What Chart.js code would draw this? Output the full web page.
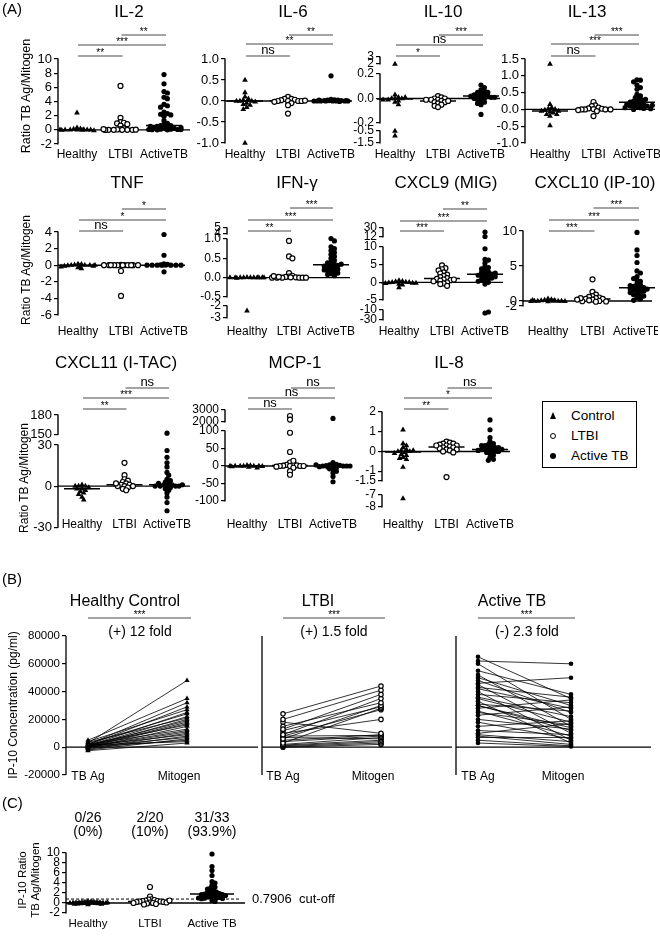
<!DOCTYPE html>
<html lang="en">
<head>
<meta charset="UTF-8">
<meta name="viewport" content="width=device-width, initial-scale=1.0">
<title>TB Ag / Mitogen ratios</title>
<script src="https://cdn.jsdelivr.net/npm/chart.js"></script>
<style>
  body { margin: 0; background: #fff; }
  #page { position: relative; width: 660px; height: 936px; overflow: hidden; background: #fff;
          font-family: "Liberation Sans", Arial, sans-serif; color: #000; }
  #page canvas { position: absolute; }
  .txt { position: absolute; white-space: nowrap; }
</style>
</head>
<body>
<div id="page"></div>
<script>
// groups on every x axis of panel A
const groupNames = ['Healthy', 'LTBI', 'ActiveTB'];

// (A) ratio TB Ag / Mitogen per cytokine, one array per group
const il2Healthy = [2.4, 0.3, 0.15, 0.1, 0.05, 0, 0, 0, 0, -0.05, -0.1, 0, 0.02, -0.02];
const il2Ltbi = [6.2, 1.7, 1.1, 1.0, 0.9, 0.8, 0.6, 0.2, 0.1, 0.05, 0, 0, 0, 0, 0.02, -0.02, 0.1, 0];
const il2Active = [7.8, 6.5, 5.4, 5.2, 4.6, 4.4, 3.6, 3.4, 3.2, 2.5, 2.3, 2.2, 2.1, 1.9, 1.3, 0.9, 0.8, 0.6, 0.6, 0.5, 0.4, 0.3, 0.2, 0.2, 0.1, 0.1, 0.05, 0, 0.5, 0.3, 0.05, 0, 0.15, 0.02, 0.03];
const il6Healthy = [0.5, 0.2, 0.1, 0.05, 0.02, 0, 0, 0, -0.02, -0.05, -0.08, -0.1, -0.15, -0.2, -1.0];
const il6Ltbi = [0.1, 0.05, 0.05, 0.03, 0.02, 0, 0, 0, 0, -0.02, -0.05, -0.1, -0.3, 0.01];
const il6Active = [0.6, 0.04, 0.03, 0.02, 0.02, 0.01, 0.01, 0, 0, 0, 0, 0, 0, 0, 0.01, 0.02, 0, -0.01, 0.01];
const il10Healthy = [2.0, 0.03, 0.01, 0, 0, 0, -0.01, -0.02, -0.03, -0.05, 0.01, -0.01, -0.5, -0.9];
const il10Ltbi = [0.02, 0.01, 0, 0, -0.01, -0.01, -0.02, -0.03, -0.03, -0.04, -0.05, -0.06, -0.07, -0.02, -0.01];
const il10Active = [0.11, 0.09, 0.07, 0.06, 0.05, 0.05, 0.04, 0.03, 0.03, 0.02, 0.02, 0.01, 0.01, 0, 0, -0.01, -0.02, -0.03, -0.04, -0.05, -0.13, 0.02, 0.01];
const il13Healthy = [1.35, 0.15, 0.05, 0.02, 0, -0.02, -0.05, -0.08, -0.1, -0.15, -0.15, -0.2, -0.05, -0.48];
const il13Ltbi = [0.22, 0.12, 0.1, 0.05, 0.03, 0.02, 0.01, 0, 0, 0, 0, -0.02, -0.05, -0.2];
const il13Active = [0.88, 0.87, 0.82, 0.72, 0.65, 0.6, 0.45, 0.4, 0.35, 0.3, 0.28, 0.25, 0.22, 0.2, 0.18, 0.15, 0.15, 0.12, 0.1, 0.1, 0.08, 0.05, 0.05, 0.03, 0.02, 0, 0.3, 0.12];
const tnfHealthy = [0.15, 0.1, 0.05, 0, 0, 0, -0.05, -0.1, -0.1, -0.2, -0.3, -0.4, -0.1, 0];
const tnfLtbi = [0.05, 0.02, 0, 0, 0, 0, 0, 0, 0, 0, 0, -0.7, -3.7, 0.02];
const tnfActive = [3.7, 1.2, 0.15, 0.1, 0.05, 0, 0, 0, 0, 0, 0, -0.8, 0.02, 0];
const ifnHealthy = [0.01, 0, 0, 0, 0, 0, 0, 0, 0, 0, -0.01, 0, -2.4];
const ifnLtbi = [0.95, 0.55, 0.5, 0.12, 0.05, 0.03, 0.02, 0.01, 0, 0, 0, 0, 0, 0, 0.01, 0.02, 0.04];
const ifnActive = [1.25, 0.95, 0.8, 0.75, 0.7, 0.65, 0.6, 0.55, 0.5, 0.45, 0.4, 0.38, 0.35, 0.32, 0.3, 0.28, 0.25, 0.22, 0.2, 0.18, 0.15, 0.12, 0.1, 0.08, 0.05, 0.3, 0.35, 0.2];
const cxcl9Healthy = [0.5, 0.3, 0.2, 0.1, 0, 0, -0.1, -0.2, -0.3, -0.5, -0.7, -1.5, -0.2];
const cxcl9Ltbi = [4.8, 4.0, 3.7, 3.4, 2.8, 2.5, 2.2, 1.8, 1.5, 1.2, 1.0, 0.8, 0.6, 0.5, 0.3, 0, -0.3, -0.5, -1.0, 0.8];
const cxcl9Active = [22, 13, 9.5, 6.5, 6.3, 5.5, 4.5, 4.2, 3.8, 3.5, 3.0, 2.8, 2.5, 2.3, 2.0, 2.0, 1.8, 1.5, 1.2, 1.0, 0.8, 0.5, 0.3, 0, -0.5, 2.6, 1.6, -16, -14];
const cxcl10Healthy = [0.3, 0.2, 0.15, 0.1, 0.05, 0, 0, 0, -0.05, -0.1, -0.15, -0.2, 0.1, 0];
const cxcl10Ltbi = [3.1, 1.3, 0.9, 0.7, 0.6, 0.5, 0.4, 0.3, 0.3, 0.2, 0.1, 0, -0.1, -0.2, -0.3, 0.4, 0.2];
const cxcl10Active = [9.8, 7.3, 6.5, 5.5, 4.3, 4.0, 3.5, 3.0, 2.8, 2.5, 2.3, 2.1, 2.0, 1.9, 1.8, 1.7, 1.6, 1.5, 1.4, 1.3, 1.2, 1.0, 0.9, 0.8, 0.7, 0.5, 0.3, 0.1, 1.7, 2.2, 3.2];
const cxcl11Healthy = [1, 0, 0, -1, -2, -3, -4, -5, -6, -8, -10, -2, 0];
const cxcl11Ltbi = [17, 8, 5, 4, 3, 2, 1, 1, 0, 0, 0, -1, -2, -3, 2];
const cxcl11Active = [152, 26, 21, 17, 14, 10, 8, 5, 4, 3, 2, 1, 1, 0, 0, 0, 0, -1, -2, -3, -5, -8, -12, -18, 0, 1, 2];
const mcp1Healthy = [2, 1, 0, 0, 0, 0, 0, -1, -2, -3, -5, 0];
const mcp1Ltbi = [2500, 2200, 95, 40, 10, 5, 3, 2, 1, 0, 0, 0, 0, -2, -5, -15, 15, -25];
const mcp1Active = [2300, 10, 5, 3, 2, 1, 0, 0, 0, 0, -2, -5, -8, -10, -15, -20, -30, -45, 0, 3, -3];
const il8Healthy = [1.1, 0.4, 0.3, 0.2, 0.1, 0.05, 0, 0, -0.05, -0.1, -0.15, -0.2, -0.3, -0.35, -0.4, -0.8, 0.05, -7.3];
const il8Ltbi = [0.5, 0.45, 0.4, 0.4, 0.35, 0.3, 0.3, 0.25, 0.2, 0.2, 0.15, 0.1, 0.1, 0.05, 0, -0.05, -1.3, 0.3];
const il8Active = [1.6, 1.1, 0.7, 0.5, 0.4, 0.35, 0.3, 0.25, 0.2, 0.2, 0.15, 0.1, 0.1, 0.05, 0, 0, -0.1, -0.2, -0.3, -0.4, -0.45, 0.3, 0.1, 0.05, -0.05];

// y tick labels (broken axes carry their own gaps)
const il2Ticks = ['-2', '0', '2', '4', '6', '8', '10'];
const il6Ticks = ['-1.0', '-0.5', '0.0', '0.5', '1.0'];
const il10Ticks = ['-1.5', '-0.5', '-0.2', '0.0', '0.2', '2', '3'];
const il13Ticks = ['-1.0', '-0.5', '0.0', '0.5', '1.0', '1.5'];
const tnfTicks = ['-6', '-4', '-2', '0', '2', '4'];
const ifnTicks = ['-3', '-2', '-0.5', '0.0', '0.5', '1.0', '4', '5'];
const cxcl9Ticks = ['-30', '-10', '-5', '0', '5', '10', '12', '30'];
const cxcl10Ticks = ['-2', '0', '5', '10'];
const cxcl11Ticks = ['-30', '0', '30', '150', '180'];
const mcp1Ticks = ['-100', '-50', '0', '50', '100', '2000', '3000'];
const il8Ticks = ['-8', '-7', '-1.5', '-1', '0', '1', '2'];

// (B) IP-10 concentration (pg/ml), paired TB Ag -> Mitogen
const pairLabels = ['TB Ag', 'Mitogen'];
const healthyTbAg = [3000, 5000, 2000, 1500, 4000, 1000, 2500, 800, 3500, 500, 1200, 300, 0, 2000, -500, 1800, 600, 200, -1000, 1000, -1500, 400, -2000, 0, 1500, -2500];
const healthyMitogen = [48000, 35000, 32000, 29000, 27000, 25000, 24000, 22000, 21000, 20000, 19000, 18000, 17000, 16000, 15000, 13000, 12000, 11000, 10000, 9000, 8000, 7000, 6000, 5000, 4000, 3000];
const ltbiTbAg = [24000, 20000, 13000, 9000, 15000, 6000, 12000, 3000, 8000, 10000, 18000, 5000, 4000, 2000, 7000, 1500, 1000, 500, 0, 8000];
const ltbiMitogen = [44000, 41000, 38000, 35000, 32000, 30000, 29000, 28000, 27000, 20000, 10000, 9000, 8000, 7000, 6000, 5000, 4000, 3000, 2000, 8500];
const activeTbAg = [65000, 62000, 60000, 55000, 52000, 50000, 48000, 46000, 45000, 43000, 42000, 40000, 38000, 36000, 35000, 33000, 31000, 30000, 28000, 26000, 25000, 23000, 20000, 18000, 15000, 12000, 10000, 9000, 8000, 7000, 5000, 3000, 30000];
const activeMitogen = [35000, 60000, 20000, 38000, 15000, 30000, 25000, 50000, 10000, 36000, 28000, 5000, 32000, 22000, 18000, 3000, 26000, 12000, 34000, 8000, 16000, 29000, 13000, 6000, 19000, 9000, 17000, 4000, 2000, 7000, 1000, 500, 14000];

// (C) IP-10 ratio TB Ag / Mitogen
const ratioGroups = ['Healthy', 'LTBI', 'Active TB'];
const ratioHealthy = [0.3, 0.25, 0.2, 0.2, 0.15, 0.15, 0.1, 0.1, 0.05, 0.05, 0.02, 0, 0, 0, 0, -0.02, -0.05, -0.05, -0.1, -0.1, -0.15, -0.2, -0.2, -0.3, 0.1, 0];
const ratioLtbi = [3.2, 1.3, 0.75, 0.7, 0.6, 0.5, 0.4, 0.4, 0.3, 0.3, 0.2, 0.2, 0.1, 0.1, 0, 0, -0.1, -0.2, -0.3, 0.5];
const ratioActive = [9.8, 7.3, 6.5, 5.5, 4.3, 4.0, 3.6, 3.2, 3.0, 2.8, 2.6, 2.4, 2.2, 2.1, 2.0, 1.9, 1.8, 1.8, 1.7, 1.7, 1.6, 1.5, 1.4, 1.3, 1.2, 1.1, 1.0, 0.95, 0.9, 0.85, 1.0, 0.5, 0.3];
const ratioTicks = ['-2', '0', '2', '4', '6', '8', '10'];
const ratioCounts = [['0/26', '(0%)'], ['2/20', '(10%)'], ['31/33', '(93.9%)']];
const cutOff = 0.7906;

const FONT = '"Liberation Sans", Arial, sans-serif';
Chart.defaults.font.family = FONT;
Chart.defaults.color = '#000';
Chart.defaults.animation = false;
const page = document.getElementById('page');

function addCanvas(l, t, w, h) {
  const cv = document.createElement('canvas');
  cv.width = Math.round(w); cv.height = Math.round(h);
  cv.style.left = Math.round(l) + 'px'; cv.style.top = Math.round(t) + 'px';
  page.appendChild(cv);
  return cv;
}
function addText(html, x, y, size, extra) {
  const d = document.createElement('div');
  d.className = 'txt';
  d.innerHTML = html;
  d.style.cssText += `left:${x}px;top:${y}px;font-size:${size}px;` + (extra || '');
  page.appendChild(d);
  return d;
}
function vLabel(html, cx, cy, size) {
  addText(html, cx - 150, cy - 20, size,
    `width:300px;height:40px;display:flex;align-items:center;justify-content:center;text-align:center;line-height:${size + 2}px;transform:rotate(-90deg);white-space:normal;`);
}
function stroke(ctx, x1, y1, x2, y2, w, col, dash) {
  ctx.save(); ctx.beginPath(); ctx.lineWidth = w; ctx.strokeStyle = col || '#000';
  if (dash) ctx.setLineDash(dash);
  ctx.moveTo(x1, y1); ctx.lineTo(x2, y2); ctx.stroke(); ctx.restore();
}
function write(ctx, t, x, y, size, align) {
  ctx.save(); ctx.font = size + 'px ' + FONT; ctx.fillStyle = '#000';
  ctx.textAlign = align || 'center'; ctx.textBaseline = 'middle';
  ctx.fillText(t, x, y); ctx.restore();
}
function median(a) {
  const s = [...a].sort((p, q) => p - q), m = s.length >> 1;
  return s.length % 2 ? s[m] : (s[m - 1] + s[m]) / 2;
}

// piecewise map value -> pixels above plot bottom (handles broken axes)
function mapper(segs, yBot) {
  const s = segs.map(g => ({ lo: g.lo, hi: g.hi, a: yBot - g.p0, b: yBot - g.p1 }));
  return v => {
    for (const g of s) if (v >= g.lo && v <= g.hi) return g.a + (v - g.lo) / (g.hi - g.lo) * (g.b - g.a);
    for (let i = 0; i + 1 < s.length; i++) {
      if (v > s[i].hi && v < s[i + 1].lo) return s[i].b + (v - s[i].hi) / (s[i + 1].lo - s[i].hi) * (s[i + 1].a - s[i].b);
    }
    return v < s[0].lo ? s[0].a : s[s.length - 1].b;
  };
}

// simple beeswarm: horizontal pixel offsets for points at given pixel heights
function swarm(pys, dist, maxSpread) {
  const placed = [], step = dist / 2;
  return pys.map(py => {
    let best = 0, bestD = -1;
    for (let k = 0; ; k++) {
      const dx = (k % 2 ? 1 : -1) * Math.ceil(k / 2) * step;
      if (Math.abs(dx) > maxSpread) break;
      let dmin = Infinity;
      placed.forEach(p => { dmin = Math.min(dmin, Math.hypot(p[0] - dx, p[1] - py)); });
      if (dmin >= dist) { best = dx; break; }
      if (dmin > bestD) { bestD = dmin; best = dx; }
    }
    placed.push([best, py]);
    return best;
  });
}

const markerStyles = [
  { pointStyle: 'triangle', pointRadius: 3.3, pointBackgroundColor: '#000', pointBorderColor: '#000', pointBorderWidth: 0 },
  { pointStyle: 'circle', pointRadius: 2.5, pointBackgroundColor: '#fff', pointBorderColor: '#000', pointBorderWidth: 1.2 },
  { pointStyle: 'circle', pointRadius: 2.6, pointBackgroundColor: '#000', pointBorderColor: '#000', pointBorderWidth: 0 }
];

function makeSwarm(c) {
  const yTop = Math.min(...c.segs.map(g => g.p1)), yBot = Math.max(...c.segs.map(g => g.p0));
  const T = mapper(c.segs, yBot);
  const cl = c.ax - 48, ct = c.ct;
  const cw = Math.max(c.right, c.canvasRight || 0) + 6 - cl, ch = c.labelY + 12 - ct;
  const xmin = -(c.c0 - c.ax) / c.u, xmax = xmin + (c.right - c.ax) / c.u;
  const names = c.names || groupNames;
  const datasets = [];
  c.data.forEach((vals, g) => {
    const py = vals.map(T);
    const dx = swarm(py, c.dist || 3.4, c.spread || 17);
    datasets.push(Object.assign({ data: vals.map((v, k) => ({ x: g + dx[k] / c.u, y: py[k] })), clip: false }, markerStyles[g]));
  });
  c.data.forEach((vals, g) => {
    const m = T(median(vals)), h = (c.medHalf || 18) / c.u;
    datasets.push({ data: [{ x: g - h, y: m }, { x: g + h, y: m }], showLine: true, borderColor: '#000', borderWidth: 1.5, pointRadius: 0, clip: false });
  });
  const tickVals = c.ticks.map(parseFloat);
  new Chart(addCanvas(cl, ct, cw, ch), {
    type: 'scatter',
    data: { datasets },
    options: {
      responsive: false, events: [],
      layout: { padding: { left: 8, top: yTop - ct, right: cw - (c.right - cl), bottom: ch - (yBot - ct) } },
      plugins: { legend: { display: false }, tooltip: { enabled: false } },
      scales: {
        x: { type: 'linear', min: xmin, max: xmax, display: false },
        y: {
          type: 'linear', min: 0, max: yBot - yTop,
          afterFit: s => { s.width = 40; },
          afterBuildTicks: s => { s.ticks = tickVals.map(v => ({ value: T(v) })); },
          ticks: { autoSkip: false, callback: (v, i) => c.ticks[i], font: { size: c.tickSize || 13 }, color: '#000', padding: 2 },
          grid: { drawOnChartArea: false, tickLength: 4, color: '#000', lineWidth: 1.2 },
          border: { display: false }
        }
      }
    },
    plugins: [{
      id: 'deco',
      beforeDatasetsDraw(chart) {
        const { ctx, chartArea: ca, scales: { y } } = chart;
        const y0 = y.getPixelForValue(T(0));
        stroke(ctx, ca.left, y0, ca.right, y0, 1.4);
        c.segs.forEach(g => stroke(ctx, ca.left, y.getPixelForValue(T(g.lo)) + 0.6, ca.left, y.getPixelForValue(T(g.hi)) - 0.6, 1.4));
        if (c.cutoff !== undefined) {
          const yc = y.getPixelForValue(T(c.cutoff));
          stroke(ctx, ca.left, yc, c.cutRight - cl, yc, 1, '#000', [3, 2]);
          write(ctx, c.cutText, c.cutX - cl, yc, 13, 'left');
        }
      },
      afterDraw(chart) {
        const { ctx, scales: { x } } = chart;
        if (c.title) write(ctx, c.title, c.titleX - cl, c.titleY - ct, 17);
        (c.sig || []).forEach(([a, b, yy, t]) => {
          const x1 = x.getPixelForValue(a) + 1, x2 = x.getPixelForValue(b) + 2;
          stroke(ctx, x1, yy - ct, x2, yy - ct, 0.9, '#333');
          if (t === 'ns') write(ctx, t, (x1 + x2) / 2, yy - ct - 6, 13);
          else write(ctx, t, (x1 + x2) / 2, yy - ct - 2.5, 10);
        });
        names.forEach((n, i) => write(ctx, n, x.getPixelForValue(i), c.labelY - ct, c.labelSize || 12));
        (c.counts || []).forEach((pair, i) => {
          write(ctx, pair[0], x.getPixelForValue(i), c.countY[0] - ct, 14);
          write(ctx, pair[1], x.getPixelForValue(i), c.countY[1] - ct, 14);
        });
      }
    }]
  });
}

const panelA = [
  { title: 'IL-2', titleX: 129, titleY: 12, data: [il2Healthy, il2Ltbi, il2Active], ax: 58, c0: 77, u: 43.5, right: 190, ct: 0, labelY: 155,
    segs: [{ lo: -2, hi: 10, p0: 144, p1: 59 }], ticks: il2Ticks, sig: [[1, 2, 35, '**'], [0, 2, 45, '***'], [0, 1, 56, '**']] },
  { title: 'IL-6', titleX: 293, titleY: 12, data: [il6Healthy, il6Ltbi, il6Active], ax: 225, c0: 245, u: 43, right: 352, ct: 0, labelY: 155,
    segs: [{ lo: -1, hi: 1, p0: 143, p1: 59 }], ticks: il6Ticks, sig: [[1, 2, 35, '**'], [0, 2, 44, '**'], [0, 1, 56, 'ns']] },
  { title: 'IL-10', titleX: 443, titleY: 12, data: [il10Healthy, il10Ltbi, il10Active], ax: 380, c0: 395, u: 43, right: 500, ct: 0, labelY: 155, tickSize: 12,
    segs: [{ lo: -1.5, hi: -0.5, p0: 143, p1: 131 }, { lo: -0.2, hi: 0.2, p0: 123, p1: 74 }, { lo: 2, hi: 3, p0: 64, p1: 57 }], ticks: il10Ticks,
    sig: [[1, 2, 35, '***'], [0, 2, 45, 'ns'], [0, 1, 56, '*']] },
  { title: 'IL-13', titleX: 587, titleY: 12, data: [il13Healthy, il13Ltbi, il13Active], ax: 525, c0: 550, u: 43.5, right: 655, ct: 0, labelY: 155,
    segs: [{ lo: -1, hi: 1.5, p0: 143, p1: 59 }], ticks: il13Ticks, sig: [[1, 2, 35, '***'], [0, 2, 44, '***'], [0, 1, 56, 'ns']] },

  { title: 'TNF', titleX: 127, titleY: 183, data: [tnfHealthy, tnfLtbi, tnfActive], ax: 58, c0: 78, u: 43, right: 185, ct: 168, labelY: 332,
    segs: [{ lo: -6, hi: 4, p0: 315, p1: 232 }], ticks: tnfTicks, sig: [[1, 2, 209, '*'], [0, 2, 220, '*'], [0, 1, 231, 'ns']] },
  { title: 'IFN-\u03b3', titleX: 297, titleY: 183, data: [ifnHealthy, ifnLtbi, ifnActive], ax: 227, c0: 247, u: 42, right: 350, ct: 168, labelY: 332, tickSize: 12,
    segs: [{ lo: -3, hi: -2, p0: 318, p1: 306 }, { lo: -0.5, hi: 1, p0: 297, p1: 239 }, { lo: 4, hi: 5, p0: 234, p1: 228 }], ticks: ifnTicks,
    sig: [[1, 2, 208, '***'], [0, 2, 220, '***'], [0, 1, 231, '**']] },
  { title: 'CXCL9 (MIG)', titleX: 446, titleY: 183, data: [cxcl9Healthy, cxcl9Ltbi, cxcl9Active], ax: 383, c0: 399, u: 43, right: 503, ct: 168, labelY: 332, tickSize: 12,
    segs: [{ lo: -30, hi: -10, p0: 320, p1: 310 }, { lo: -5, hi: 10, p0: 300, p1: 247 }, { lo: 12, hi: 30, p0: 237, p1: 228 }], ticks: cxcl9Ticks,
    sig: [[1, 2, 209, '**'], [0, 2, 221, '***'], [0, 1, 231, '***']] },
  { title: 'CXCL10 (IP-10)', titleX: 595, titleY: 183, data: [cxcl10Healthy, cxcl10Ltbi, cxcl10Active], ax: 523, c0: 548, u: 44.5, right: 652, ct: 168, labelY: 332,
    segs: [{ lo: -2, hi: 0, p0: 306, p1: 301 }, { lo: 0, hi: 10, p0: 301, p1: 231 }], ticks: cxcl10Ticks,
    sig: [[1, 2, 208, '***'], [0, 2, 220, '***'], [0, 1, 231, '***']] },

  { title: 'CXCL11 (I-TAC)', titleX: 116, titleY: 363, data: [cxcl11Healthy, cxcl11Ltbi, cxcl11Active], ax: 58, c0: 82, u: 42.5, right: 190, ct: 348, labelY: 525,
    segs: [{ lo: -30, hi: 30, p0: 542, p1: 449 }, { lo: 150, hi: 180, p0: 437, p1: 415 }], ticks: cxcl11Ticks,
    sig: [[1, 2, 388, 'ns'], [0, 2, 398, '***'], [0, 1, 409, '**']] },
  { title: 'MCP-1', titleX: 295, titleY: 363, data: [mcp1Healthy, mcp1Ltbi, mcp1Active], ax: 225, c0: 247, u: 43, right: 352, ct: 348, labelY: 525, tickSize: 12,
    segs: [{ lo: -100, hi: 100, p0: 501, p1: 431 }, { lo: 2000, hi: 3000, p0: 422, p1: 410 }], ticks: mcp1Ticks,
    sig: [[1, 2, 388, 'ns'], [0, 2, 398, 'ns'], [0, 1, 409, 'ns']] },
  { title: 'IL-8', titleX: 449, titleY: 363, data: [il8Healthy, il8Ltbi, il8Active], ax: 382, c0: 403, u: 43.5, right: 510, ct: 348, labelY: 525, tickSize: 12,
    segs: [{ lo: -8, hi: -7, p0: 507, p1: 495 }, { lo: -1.5, hi: 2, p0: 481, p1: 412 }], ticks: il8Ticks,
    sig: [[1, 2, 388, 'ns'], [0, 2, 398, '*'], [0, 1, 409, '**']] }
];
panelA.forEach(makeSwarm);

// (B) paired IP-10 concentrations
function makePairs(c) {
  const cl = c.ax - 50, ct = 588, cw = c.right + 6 - cl, ch = 792 - ct;
  const yTop = 636, yBot = 775;
  const xmin = -c.off / c.u, xmax = xmin + (c.right - c.ax) / c.u;
  const datasets = c.before.map((b, k) => Object.assign({
    data: [{ x: 0, y: b }, { x: 1, y: c.after[k] }], clip: false
  }, markerStyles[c.group], {
    showLine: true, borderColor: '#000', borderWidth: 0.8,
    pointRadius: markerStyles[c.group].pointRadius - 0.3
  }));
  new Chart(addCanvas(cl, ct, cw, ch), {
    type: 'scatter',
    data: { datasets },
    options: {
      responsive: false, events: [],
      layout: { padding: { left: 4, top: yTop - ct, right: cw - (c.right - cl), bottom: ch - (yBot - ct) } },
      plugins: { legend: { display: false }, tooltip: { enabled: false } },
      scales: {
        x: { type: 'linear', min: xmin, max: xmax, display: false },
        y: {
          type: 'linear', min: -20000, max: 80000,
          afterFit: s => { s.width = 46; },
          ticks: { stepSize: 20000, display: c.showTicks, callback: v => String(v), font: { size: 11.5 }, color: '#000', padding: 2 },
          grid: { display: c.showTicks, drawOnChartArea: false, tickLength: 4, color: '#000', lineWidth: 1.2 },
          border: { display: false }
        }
      }
    },
    plugins: [{
      id: 'pairDeco',
      beforeDatasetsDraw(chart) {
        const { ctx, chartArea: ca, scales: { y } } = chart;
        const y0 = y.getPixelForValue(0);
        stroke(ctx, ca.left, y0, ca.right, y0, 1.2);
        stroke(ctx, ca.left, ca.top, ca.left, ca.bottom, 1.3);
      },
      afterDraw(chart) {
        const { ctx, scales: { x } } = chart;
        const x0 = x.getPixelForValue(0), x1 = x.getPixelForValue(1);
        write(ctx, c.title, c.titleX - cl, 602 - ct, 16);
        stroke(ctx, x0, 618 - ct, x1 + 4, 618 - ct, 0.9, '#333');
        write(ctx, '***', (x0 + x1) / 2 + 2, 615.5 - ct, 10);
        write(ctx, c.fold, c.foldX - cl, 632 - ct, 14);
        pairLabels.forEach((n, i) => write(ctx, n, x.getPixelForValue(i) - (i ? 8 : 0), 777 - ct, 12));
      }
    }]
  });
}
[
  { title: 'Healthy Control', titleX: 125, fold: '(+) 12 fold', foldX: 140, before: healthyTbAg, after: healthyMitogen, group: 0, ax: 66, off: 22, u: 99, right: 258, showTicks: true },
  { title: 'LTBI', titleX: 318, fold: '(+) 1.5 fold', foldX: 334, before: ltbiTbAg, after: ltbiMitogen, group: 1, ax: 262, off: 21, u: 98, right: 452, showTicks: false },
  { title: 'Active TB', titleX: 512, fold: '(-) 2.3 fold', foldX: 527, before: activeTbAg, after: activeMitogen, group: 2, ax: 456, off: 22, u: 93, right: 651, showTicks: false }
].forEach(makePairs);

// (C) IP-10 ratio with cut-off
makeSwarm({
  data: [ratioHealthy, ratioLtbi, ratioActive], names: ratioGroups, labelSize: 11.5,
  ax: 66, c0: 88, u: 62, right: 245, canvasRight: 340, ct: 805, labelY: 924, tickSize: 12,
  segs: [{ lo: -2, hi: 10, p0: 913, p1: 853 }], ticks: ratioTicks,
  dist: 3.0, spread: 20, medHalf: 22,
  counts: ratioCounts, countY: [818, 832],
  cutoff: cutOff, cutRight: 240, cutX: 252, cutText: '0.7906  cut-off'
});

// axis titles and panel letters
vLabel('Ratio TB Ag/Mitogen', 26, 96, 12.5);
vLabel('Ratio TB Ag/Mitogen', 26, 270, 12);
vLabel('Ratio TB Ag/Mitogen', 24, 478, 12);
vLabel('IP-10 Concentration (pg/ml)', 13, 705, 12);
vLabel('IP-10 Ratio<br>TB Ag/Mitogen', 29, 880, 11.5);
addText('(A)', 2, 0, 15);
addText('(B)', 2, 570, 15);
addText('(C)', 2, 794, 15);

// legend box
const legendItems = [['tri', 'Control'], ['open', 'LTBI'], ['fill', 'Active TB']];
const lg = addText('', 542, 401, 13.5, 'width:93px;height:65px;border:1px solid #000;');
legendItems.forEach(([kind, label], i) => {
  const row = document.createElement('div');
  row.style.cssText = `position:absolute;left:0;top:${6 + i * 20}px;height:16px;width:93px;`;
  const mk = document.createElement('div');
  if (kind === 'tri') mk.style.cssText = 'position:absolute;left:7px;top:4px;width:0;height:0;border-left:3.5px solid transparent;border-right:3.5px solid transparent;border-bottom:7px solid #000;';
  else mk.style.cssText = `position:absolute;left:7px;top:5px;width:${kind === 'open' ? 4 : 6}px;height:${kind === 'open' ? 4 : 6}px;border-radius:50%;` + (kind === 'open' ? 'border:1.5px solid #000;background:#fff;' : 'background:#000;');
  const tx = document.createElement('div');
  tx.textContent = label;
  tx.style.cssText = 'position:absolute;left:28px;top:0;line-height:16px;';
  row.appendChild(mk); row.appendChild(tx); lg.appendChild(row);
});
</script>
</body>
</html>
